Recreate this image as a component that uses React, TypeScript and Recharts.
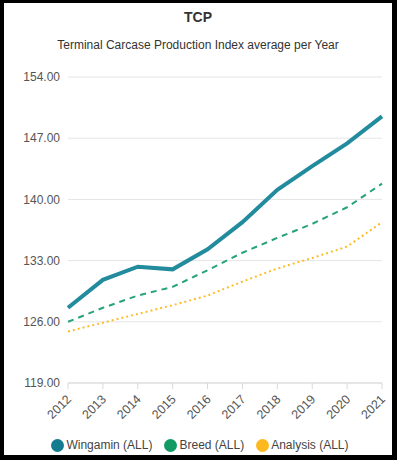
import { LineChart, Line, XAxis, YAxis, CartesianGrid, Legend } from "recharts";

const years = ["2012", "2013", "2014", "2015", "2016", "2017", "2018", "2019", "2020", "2021"];
const wingamin = [127.6, 130.8, 132.3, 132.0, 134.3, 137.4, 141.1, 143.8, 146.4, 149.5];
const breed = [126.0, 127.6, 129.0, 130.0, 131.9, 133.9, 135.6, 137.2, 139.1, 141.8];
const analysis = [124.9, 125.9, 126.9, 127.9, 129.0, 130.6, 132.1, 133.3, 134.6, 137.4];
const yTicks = [119, 126, 133, 140, 147, 154];

const data = years.map((year, i) => ({
  year,
  wingamin: wingamin[i],
  breed: breed[i],
  analysis: analysis[i],
}));

const font = "'Liberation Sans', Arial, sans-serif";

// rotated year labels, right end sits just under the tick
const YearTick = ({ x, y, payload }: any) => (
  <text
    x={x + 4}
    y={y + 9}
    transform={`rotate(-45, ${x + 4}, ${y + 9})`}
    textAnchor="end"
    fill="#555"
    fontSize={12.5}
    fontFamily={font}
  >
    {payload.value}
  </text>
);

const legendItems = [
  { name: "Wingamin (ALL)", color: "#137c91" },
  { name: "Breed (ALL)", color: "#119a64" },
  { name: "Analysis (ALL)", color: "#fbb81f" },
];

const LegendContent = () => (
  <div
    style={{
      display: "flex",
      justifyContent: "center",
      alignItems: "center",
      fontFamily: font,
      fontSize: 12,
      color: "#444",
      height: 20,
      paddingLeft: 14,
    }}
  >
    {legendItems.map((item) => (
      <span key={item.name} style={{ display: "flex", alignItems: "center", margin: "0 6px" }}>
        <span
          style={{
            width: 13,
            height: 13,
            borderRadius: 7,
            background: item.color,
            display: "inline-block",
            marginRight: 2,
          }}
        />
        {item.name}
      </span>
    ))}
  </div>
);

export default function App() {
  return (
    <div
      style={{
        position: "absolute",
        left: 0,
        top: 0,
        width: 397,
        height: 460,
        background: "#000",
      }}
    >
      <div
        style={{
          position: "absolute",
          left: 4,
          top: 3,
          width: 388,
          height: 452,
          background: "#fff",
          fontFamily: font,
        }}
      >
        <div
          style={{
            position: "absolute",
            top: 6,
            width: "100%",
            textAlign: "center",
            fontWeight: "bold",
            fontSize: 14,
            color: "#333",
          }}
        >
          TCP
        </div>
        <div
          style={{
            position: "absolute",
            top: 35,
            width: "100%",
            textAlign: "center",
            fontSize: 12,
            color: "#333",
          }}
        >
          Terminal Carcase Production Index average per Year
        </div>
        <div style={{ position: "absolute", left: 0, top: 57 }}>
          <LineChart
            width={388}
            height={395}
            data={data}
            margin={{ top: 17, right: 10, left: 0, bottom: 0 }}
          >
            <CartesianGrid vertical={false} stroke="#e5e5e5" />
            <XAxis
              dataKey="year"
              stroke="#d9d9d9"
              tickSize={6}
              tick={<YearTick />}
              interval={0}
              height={52}
              padding={{ left: 0, right: 0 }}
            />
            <YAxis
              domain={[119, 154]}
              ticks={yTicks}
              width={64}
              axisLine={false}
              tickLine={false}
              tickFormatter={(v: number) => v.toFixed(2)}
              tick={{ fill: "#555", fontSize: 12, fontFamily: font }}
            />
            <Legend verticalAlign="bottom" content={<LegendContent />} />
            <Line
              dataKey="analysis"
              stroke="#fbbd2a"
              strokeWidth={2}
              strokeDasharray="2 3"
              dot={false}
              isAnimationActive={false}
            />
            <Line
              dataKey="breed"
              stroke="#27a27a"
              strokeWidth={2}
              strokeDasharray="6 5"
              dot={false}
              isAnimationActive={false}
            />
            <Line
              dataKey="wingamin"
              stroke="#228b9e"
              strokeWidth={4}
              dot={false}
              isAnimationActive={false}
            />
          </LineChart>
        </div>
      </div>
    </div>
  );
}
